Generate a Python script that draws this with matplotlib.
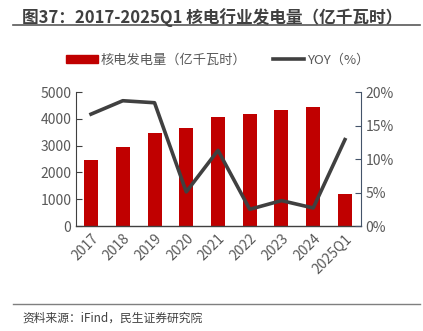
import matplotlib.pyplot as plt
from matplotlib.lines import Line2D
from matplotlib.patches import Patch
import numpy as np

plt.rcParams['font.family'] = ['Noto Sans CJK SC', 'DejaVu Sans']

years = ["2017", "2018", "2019", "2020", "2021", "2022", "2023", "2024", "2025Q1"]
generation = [2481, 2944, 3487, 3662, 4075, 4178, 4334, 4447, 1180]
yoy = [16.7, 18.7, 18.4, 5.1, 11.3, 2.5, 3.8, 2.7, 12.9]

bar_color = "#C00000"
line_color = "#404040"
text_color = "#595959"

fig = plt.figure(figsize=(4.23, 3.31), dpi=100)
ax = fig.add_axes([0.180, 0.317, 0.673, 0.405])
x = np.arange(len(years))
ax.bar(x, generation, width=0.44, color=bar_color, zorder=2)
ax.set_ylim(0, 5000)
ax.set_yticks(range(0, 5001, 1000))
ax.set_xlim(-0.47, len(years) - 0.5)
ax.set_xticks(x)
ax.set_xticklabels(years, rotation=45, ha='right', rotation_mode='anchor')
ax.tick_params(axis='y', direction='in', length=4, labelsize=10, colors='#404040', labelcolor=text_color)
ax.tick_params(axis='x', length=0, labelsize=10, labelcolor=text_color, pad=4)
for s in ['top', 'right']:
    ax.spines[s].set_visible(False)
ax.spines['left'].set_color('#404040')
ax.spines['bottom'].set_color('#404040')
ax.spines['bottom'].set_linewidth(1.0)

ax2 = ax.twinx()
ax2.plot(x, yoy, color=line_color, linewidth=2.6, zorder=3)
ax2.set_ylim(0, 20)
ax2.set_yticks(range(0, 21, 5))
ax2.set_yticklabels([f"{v}%" for v in range(0, 21, 5)])
ax2.tick_params(axis='y', direction='in', length=4, labelsize=10, colors='#44546A', labelcolor=text_color)
for s in ['top', 'left', 'bottom']:
    ax2.spines[s].set_visible(False)
ax2.spines['right'].set_color('#44546A')

handles = [Patch(color=bar_color), Line2D([0], [0], color=line_color, linewidth=2.6)]
fig.legend(handles, ["核电发电量（亿千瓦时）", "YOY（%）"], loc='center', bbox_to_anchor=(0.515, 0.818),
           ncol=2, frameon=False, fontsize=9.5, handlelength=2.4, handleheight=0.6,
           handletextpad=0.2, columnspacing=2.0, labelcolor=text_color)

fig.text(0.052, 0.948, "图37：2017-2025Q1 核电行业发电量（亿千瓦时）", fontsize=12, fontweight='bold',
         color='#404040', va='center')
fig.add_artist(Line2D([0.031, 0.993], [0.924, 0.924], color='#595959', linewidth=1.2))
fig.add_artist(Line2D([0.031, 0.993], [0.082, 0.082], color='#7f7f7f', linewidth=1.0))
fig.text(0.052, 0.040, "资料来源：iFind，民生证券研究院", fontsize=8.5, color='#404040', va='center')

fig.savefig("out.png", dpi=100)
